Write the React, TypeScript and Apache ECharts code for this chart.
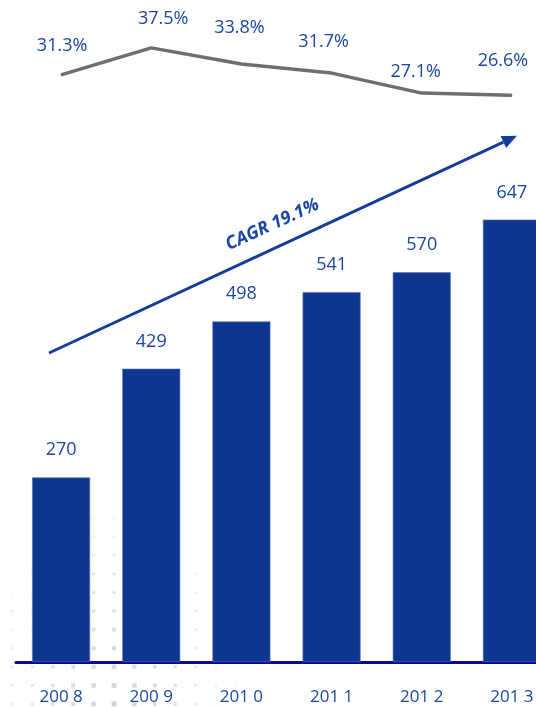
import React, { useEffect, useRef } from "react";
import * as echarts from "echarts";

const categories = ["200 8", "200 9", "201 0", "201 1", "201 2", "201 3"];
const revenue = [270, 429, 498, 541, 570, 647];
const margin = [31.3, 37.5, 33.8, 31.7, 27.1, 26.6];
const marginLabels = ["31.3%", "37.5%", "33.8%", "31.7%", "27.1%", "26.6%"];
const cagrText = "CAGR 19.1%";

// label offsets (styling only)
const marginLabelOffsets = [
  [1, -31],
  [12, -31],
  [-2, -38],
  [-8, -33],
  [-6, -23],
  [-9, -36],
];

const FONT = "'Open Sans', 'Noto Sans', sans-serif";
const BLUE_TEXT = "#1b47a3";
const BAR = "#0e3690";

// decorative faint dot texture in the lower-left background
function dotTexture() {
  const out: any[] = [];
  for (let i = 0; i < 12; i++) {
    for (let j = 0; j < 11; j++) {
      const cx = 12 + 20.4 * i;
      const cy = 704 - 18.6 * j;
      const d = Math.sqrt(((cx - 113) / 135) ** 2 + ((cy - 700) / 210) ** 2);
      const k = 1 - d;
      if (k <= 0.08) continue;
      const s = 1.5 + 3.5 * k;
      out.push({
        type: "rect",
        z: -10,
        silent: true,
        shape: { x: cx - s / 2, y: cy - s / 2, width: s, height: s },
        style: { fill: `rgba(150,150,150,${(0.12 + 0.3 * k).toFixed(3)})` },
      });
    }
  }
  return out;
}

export default function App() {
  const ref = useRef<HTMLDivElement>(null);
  useEffect(() => {
    if (!ref.current) return;
    const chart = echarts.init(ref.current, undefined, { renderer: "svg" });
    const tipX = 517, tipY = 135.7;
    const sx = 49, sy = 353;
    const len = Math.hypot(tipX - sx, tipY - sy);
    const ux = (tipX - sx) / len, uy = (tipY - sy) / len;
    const bx = tipX - 15 * ux, by = tipY - 15 * uy;
    const px = -uy, py = ux;
    const hw = 6.5;
    chart.setOption({
      animation: false,
      textStyle: { fontFamily: FONT },
      grid: [
        { left: 16, right: 3, top: 115, bottom: 45, containLabel: false },
        { left: 16, right: 3, top: 37, height: 87, containLabel: false },
      ],
      xAxis: [
        {
          type: "category",
          data: categories,
          gridIndex: 0,
          axisLine: { show: true, lineStyle: { color: "#0c0c8a", width: 3 } },
          axisTick: { show: false },
          axisLabel: { color: BLUE_TEXT, fontSize: 17, margin: 25, fontFamily: FONT },
        },
        {
          type: "category",
          data: categories,
          gridIndex: 1,
          show: false,
        },
      ],
      yAxis: [
        { type: "value", gridIndex: 0, min: 0, max: 800, show: false },
        { type: "value", gridIndex: 1, min: 20, max: 40, show: false },
      ],
      series: [
        {
          type: "bar",
          xAxisIndex: 0,
          yAxisIndex: 0,
          data: revenue,
          barWidth: 58,
          itemStyle: { color: BAR, borderColor: "#5a76bb", borderWidth: 0.6 },
          label: {
            show: true,
            position: "top",
            distance: 20,
            color: BLUE_TEXT,
            fontSize: 18,
            fontFamily: FONT,
          },
        },
        {
          type: "line",
          xAxisIndex: 1,
          yAxisIndex: 1,
          data: margin.map((v, i) => ({
            value: v,
            label: { offset: marginLabelOffsets[i] },
          })),
          symbol: "circle",
          symbolSize: 1,
          itemStyle: { color: "#6e6e6e" },
          lineStyle: { color: "#6e6e6e", width: 3.5 },
          label: {
            show: true,
            position: "inside",
            color: BLUE_TEXT,
            fontSize: 18,
            fontFamily: FONT,
            formatter: (p: any) => marginLabels[p.dataIndex],
          },
        },
      ],
      graphic: [
        ...dotTexture(),
        {
          type: "line",
          shape: { x1: sx, y1: sy, x2: bx, y2: by },
          style: { stroke: "#143d97", lineWidth: 3 },
        },
        {
          type: "polygon",
          shape: {
            points: [
              [tipX, tipY],
              [bx + hw * px, by + hw * py],
              [bx - hw * px, by - hw * py],
            ],
          },
          style: { fill: "#143d97" },
        },
        {
          type: "text",
          x: 271.7,
          y: 223,
          rotation: 0.43,
          style: {
            text: cagrText,
            fill: BLUE_TEXT,
            font: `italic bold 18px ${FONT}`,
            align: "center",
            verticalAlign: "middle",
          },
        },
      ],
    });
    return () => chart.dispose();
  }, []);
  return (
    <div
      style={{
        position: "fixed",
        left: 0,
        top: 0,
        width: 536,
        height: 707,
        overflow: "hidden",
      }}
    >
      <div ref={ref} style={{ width: 560, height: 707 }} />
    </div>
  );
}
